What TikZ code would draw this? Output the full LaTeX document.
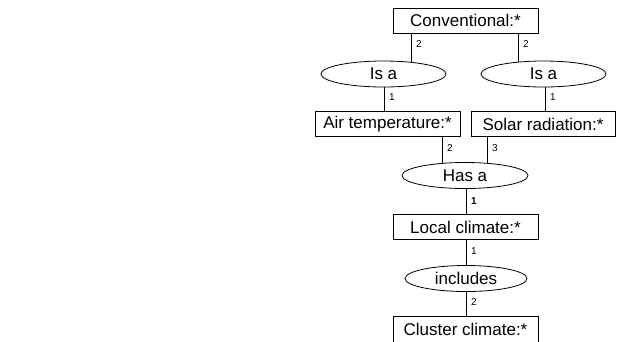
\documentclass[tikz,border=0pt]{standalone}
\usepackage{fontspec}
\setmainfont{Liberation Sans}
\usetikzlibrary{shapes.geometric,backgrounds}
\begin{document}
\begin{tikzpicture}[x=1pt,y=-1pt,
  box/.style={draw,fill=white,rectangle,line width=0.8pt,minimum width=#1,minimum height=25pt,inner sep=0pt,font=\fontsize{17}{20}\selectfont},
  ell/.style={draw,fill=white,ellipse,line width=0.8pt,minimum width=#1,minimum height=26pt,inner sep=0pt,font=\fontsize{17}{20}\selectfont},
  lbl/.style={anchor=west,inner sep=0pt,font=\fontsize{10}{12}\selectfont},
  conn/.style={line width=0.8pt}]
\useasboundingbox (0,0) rectangle (623,341);
\node[box=145pt] (conv) at (465.5,20.5) {Conventional:*};
\node[ell=125pt] (isaL) at (383.5,74) {Is a};
\node[ell=125pt] (isaR) at (543.5,74) {Is a};
\node[box=145pt] (air) at (387.5,124) {Air temperature:*};
\node[box=144pt] (solar) at (543,124) {Solar radiation:*};
\node[ell=126pt] (hasa) at (465,175.5) {Has a};
\node[box=145pt] (local) at (465.5,227) {Local climate:*};
\node[ell=122pt] (incl) at (466,278.5) {includes};
\node[box=145pt,minimum height=28pt,text depth=0pt] (cluster) at (465.5,330) {\raisebox{1.5pt}{Cluster climate:*}};
\begin{pgfonlayer}{background}
\draw[conn] (conv.south -| 411,0) -- (isaL.center -| 411,0);
\draw[conn] (conv.south -| 518,0) -- (isaR.center -| 518,0);
\draw[conn] (isaL.center -| 384,0) -- (air.north -| 384,0);
\draw[conn] (isaR.center -| 545,0) -- (solar.north -| 545,0);
\draw[conn] (air.south -| 442,0) -- (hasa.center -| 442,0);
\draw[conn] (solar.south -| 487,0) -- (hasa.center -| 487,0);
\draw[conn] (hasa.center -| 466,0) -- (local.north -| 466,0);
\draw[conn] (local.south -| 466,0) -- (incl.center -| 466,0);
\draw[conn] (incl.center -| 466,0) -- (cluster.north -| 466,0);
\end{pgfonlayer}
\path (conv.south -| 411,0) ++(5,11) node[lbl] (l1) {2};
\path (conv.south -| 518,0) ++(5,11) node[lbl] (l2) {2};
\path (isaL.south -| 384,0) ++(5,10) node[lbl] (l3) {1};
\path (isaR.south -| 545,0) ++(5,10) node[lbl] (l4) {1};
\path (air.south -| 442,0) ++(5,11) node[lbl] (l5) {2};
\path (solar.south -| 487,0) ++(5,11) node[lbl] (l6) {3};
\path (hasa.south -| 466,0) ++(5,12) node[lbl] (l7) {\textbf{1}};
\path (local.south -| 466,0) ++(5,11) node[lbl] (l8) {1};
\path (incl.south -| 466,0) ++(5,10) node[lbl] (l9) {2};
\end{tikzpicture}
\end{document}
